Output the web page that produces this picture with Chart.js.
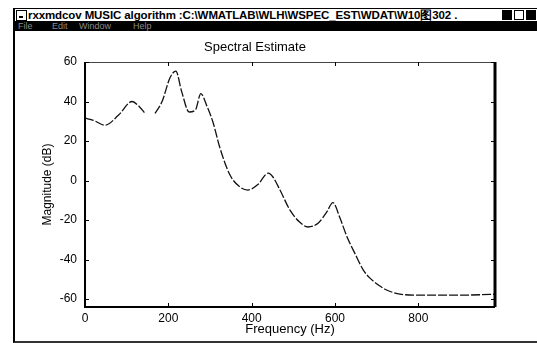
<!DOCTYPE html>
<html>
<head>
<meta charset="utf-8">
<script src="https://cdn.jsdelivr.net/npm/chart.js@4"></script>
<style>
  body { margin: 0; width: 537px; height: 343px; overflow: hidden; background: #fff; font-family: "Liberation Sans", Arial, sans-serif; }
  #frame { position: absolute; left: 13px; top: 8px; width: 524px; height: 333px; border-left: 2px solid #000; border-bottom: 2px solid #333; }
  #titlebar { position: absolute; left: 15px; top: 8px; width: 522px; height: 12px; border-top: 1px solid #000; background: #fff; }
  #icon { position: absolute; left: 1px; top: 1px; width: 9px; height: 9px; border: 1px solid #000; background: #fff; }
  #icon:after { content: ""; position: absolute; left: 2px; top: 5px; width: 4px; height: 2px; background: #000; }
  #ttext { position: absolute; left: 13px; top: -1px; font: bold 11.5px "Liberation Sans", Arial, sans-serif; color: #000; white-space: nowrap; letter-spacing: -0.1px; }
  .btn { position: absolute; top: 1px; width: 10px; height: 10px; background: #000; }
  #menubar { position: absolute; left: 15px; top: 21px; width: 522px; height: 10px; background: #000; color: #8a8a8a; font: 9px "Liberation Sans", Arial, sans-serif; }
  #menubar span { position: absolute; top: 0px; }
  #c { position: absolute; left: 0; top: 0; }
</style>
</head>
<body>
<div id="frame"></div>
<div id="titlebar">
  <div id="icon"></div>
  <div id="ttext">rxxmdcov MUSIC algorithm :C:\WMATLAB\WLH\WSPEC_EST\WDAT\W10图302 .</div>
  <div class="btn" style="left:487px"></div>
  <div class="btn" style="left:499px; background:#fff; border:1px solid #000; width:8px; height:8px"></div>
  <div class="btn" style="left:511px"></div>
</div>
<div id="menubar">
  <span style="left:3px">File</span>
  <span style="left:37px">Edit</span>
  <span style="left:64px">Window</span>
  <span style="left:118px">Help</span>
</div>
<canvas id="c" width="537" height="343"></canvas>
<script>
// values
const freqHz = [0, 20, 48, 80, 113, 130, 144, 156, 168, 185, 204, 218, 232, 250, 265, 278, 292, 307, 324, 348,
  372, 391, 415, 440, 451, 468, 492, 515, 535, 560, 580, 595, 612, 629, 648, 668, 684, 705, 724, 756,
  800, 850, 900, 950, 984];
const magDb = [31.6, 30.5, 28, 33, 40, 37.5, 34, null, 34, 40, 52, 55.4, 45, 34.7, 35.7, 44, 38, 29.6, 16.4, 2.8,
  -3.3, -4.8, -2, 3.8, 1.8, -4.8, -15, -21, -23.5, -21.5, -16, -11.2, -19, -28.6, -37, -45.3, -49.4, -53, -55.4, -57.5,
  -58, -58, -58, -57.8, -57.5];
const xTicks = [0, 200, 400, 600, 800];
const yTicks = [-60, -40, -20, 0, 20, 40, 60];

const points = freqHz.map((f, i) => ({ x: f, y: magDb[i] }));

// matlab style box with inward ticks
const boxPlugin = {
  id: 'box',
  afterDraw(chart) {
    const { ctx, chartArea: a, scales } = chart;
    ctx.save();
    ctx.strokeStyle = '#000';
    ctx.lineWidth = 2;
    ctx.beginPath();
    ctx.moveTo(a.left, a.top); ctx.lineTo(a.left, a.bottom); ctx.lineTo(a.right, a.bottom);
    ctx.stroke();
    ctx.lineWidth = 3;
    ctx.beginPath();
    ctx.moveTo(a.right, a.top); ctx.lineTo(a.right, a.bottom);
    ctx.stroke();
    ctx.strokeStyle = '#444';
    ctx.lineWidth = 1.2;
    ctx.beginPath();
    ctx.moveTo(a.left, a.top + 0.5); ctx.lineTo(a.right, a.top + 0.5);
    ctx.stroke();
    ctx.strokeStyle = '#000';
    ctx.lineWidth = 1;
    ctx.beginPath();
    xTicks.forEach(v => {
      const x = Math.round(scales.x.getPixelForValue(v)) + 0.5;
      if (v === 0) return;
      ctx.moveTo(x, a.bottom); ctx.lineTo(x, a.bottom - 4);
      ctx.moveTo(x, a.top); ctx.lineTo(x, a.top + 4);
    });
    yTicks.forEach(v => {
      const y = Math.round(scales.y.getPixelForValue(v)) + 0.5;
      ctx.moveTo(a.left, y); ctx.lineTo(a.left + 4, y);
      ctx.moveTo(a.right, y); ctx.lineTo(a.right - 4, y);
    });
    ctx.stroke();
    ctx.restore();
  }
};

new Chart(document.getElementById('c'), {
  type: 'line',
  data: {
    datasets: [{
      data: points,
      borderColor: '#111',
      borderWidth: 1.3,
      borderDash: [9, 2],
      pointRadius: 0,
      tension: 0.4,
      cubicInterpolationMode: 'monotone',
      spanGaps: false,
      fill: false
    }]
  },
  options: {
    responsive: false,
    animation: false,
    layout: { padding: { left: 15, right: 42, top: 0, bottom: 0 } },
    plugins: {
      legend: { display: false },
      tooltip: { enabled: false },
      title: {
        display: true,
        text: 'Spectral Estimate',
        color: '#000',
        font: { family: '"Liberation Sans", Arial, sans-serif', size: 13, weight: 'normal' },
        padding: { top: 40, bottom: 6.4 }
      }
    },
    scales: {
      x: {
        type: 'linear',
        min: 0,
        max: 984,
        afterBuildTicks: s => { s.ticks = xTicks.map(v => ({ value: v })); },
        afterFit: s => { s.height = 36; },
        grid: { display: false, drawTicks: false },
        border: { display: false },
        ticks: {
          color: '#000',
          padding: 4,
          maxRotation: 0,
          font: { family: '"Liberation Sans", Arial, sans-serif', size: 12 },
          callback: v => String(v)
        },
        title: {
          display: true,
          text: 'Frequency (Hz)',
          color: '#000',
          font: { family: '"Liberation Sans", Arial, sans-serif', size: 13 },
          padding: { top: 0, bottom: 5.5 }
        }
      },
      y: {
        min: -64,
        max: 60,
        afterBuildTicks: s => { s.ticks = yTicks.map(v => ({ value: v })); },
        afterFit: s => { s.width = 70; },
        grid: { display: false, drawTicks: false },
        border: { display: false },
        ticks: {
          color: '#000',
          padding: 8,
          font: { family: '"Liberation Sans", Arial, sans-serif', size: 12 },
          callback: v => String(v)
        },
        title: {
          display: true,
          text: 'Magnitude (dB)',
          color: '#000',
          font: { family: '"Liberation Sans", Arial, sans-serif', size: 12 },
          padding: { top: 25, bottom: 0 }
        }
      }
    }
  },
  plugins: [boxPlugin]
});
</script>
</body>
</html>
